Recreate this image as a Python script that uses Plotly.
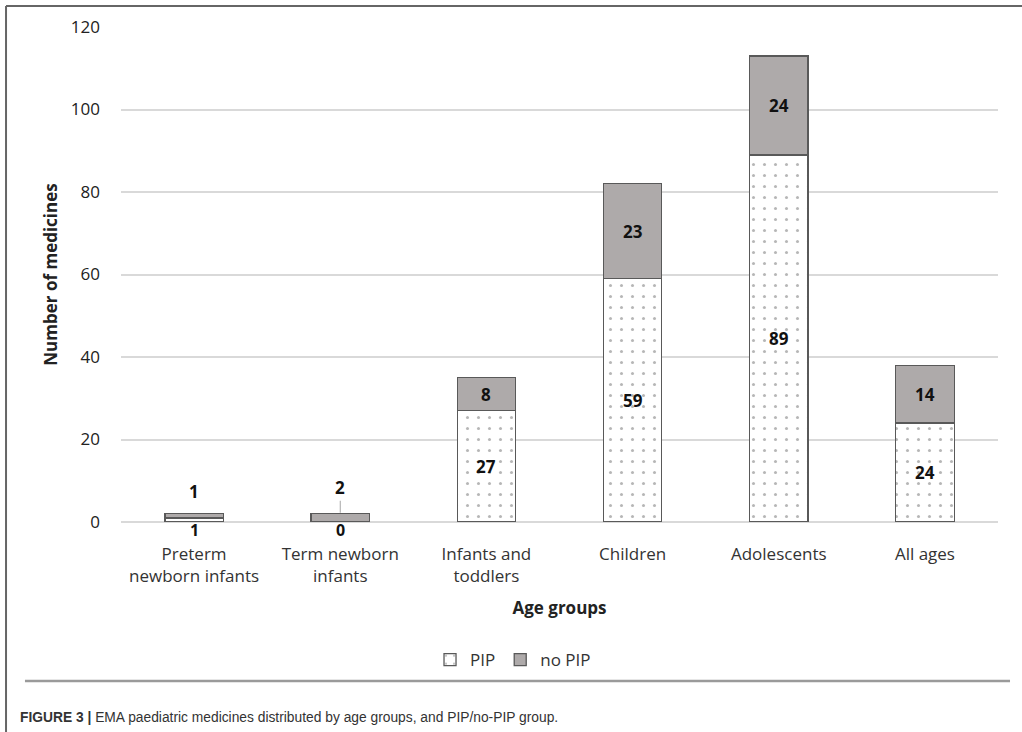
import plotly.graph_objects as go

# Age groups on the x axis (line breaks as they appear under the bars)
categories = ["Preterm<br>newborn infants", "Term newborn<br>infants", "Infants and<br>toddlers",
              "Children", "Adolescents", "All ages"]
pip_counts = [1, 0, 27, 59, 89, 24]
no_pip_counts = [1, 2, 8, 23, 24, 14]
y_ticks = [0, 20, 40, 60, 80, 100, 120]

FONT = "Open Sans"
EDGE = "#595959"
GRAY_FILL = "#AEAAAA"
GRID = "#D9D9D9"

fig = go.Figure()
fig.add_trace(go.Bar(
    x=categories, y=pip_counts, name="PIP", width=0.4,
    marker=dict(color="white", line=dict(color=EDGE, width=1.3),
                pattern=dict(shape=".", fgcolor="#6e6e6e", bgcolor="white",
                             size=11, solidity=0.06)),
))
fig.add_trace(go.Bar(
    x=categories, y=no_pip_counts, name="no PIP", width=0.4,
    marker=dict(color=GRAY_FILL, line=dict(color=EDGE, width=1.3)),
))

# Value labels: centred in each segment, moved outside when the bar is too short
label_font = dict(family=FONT, size=17, color="#111111")
small_font = dict(family=FONT, size=16, color="#111111")
for cat, p, n in zip(categories, pip_counts, no_pip_counts):
    total = p + n
    if total < 5:
        fig.add_annotation(x=cat, y=0, text=f"<b>{p}</b>", showarrow=False,
                           yanchor="middle", yshift=-8, borderpad=0, font=small_font)
        if p == 0:
            fig.add_annotation(x=cat, y=total, text=f"<b>{n}</b>", showarrow=True,
                               arrowhead=0, arrowwidth=1, arrowcolor="#A6A6A6",
                               ax=0, ay=-26, standoff=1, font=label_font)
        else:
            fig.add_annotation(x=cat, y=total, text=f"<b>{n}</b>", showarrow=False,
                               yanchor="middle", yshift=22, font=label_font)
    else:
        fig.add_annotation(x=cat, y=p / 2, text=f"<b>{p}</b>", showarrow=False,
                           font=label_font)
        fig.add_annotation(x=cat, y=p + n / 2, text=f"<b>{n}</b>", showarrow=False,
                           font=label_font)

# Panel frame (left and top edges) and the rule above the caption
fig.update_layout(shapes=[
    dict(type="line", xref="paper", yref="paper", x0=-0.1311, x1=1.04, y0=1.0424, y1=1.0424,
         line=dict(color="#666666", width=2)),
    dict(type="line", xref="paper", yref="paper", x0=-0.1311, x1=-0.1311, y0=1.0424, y1=-0.43,
         line=dict(color="#666666", width=2)),
    dict(type="line", xref="paper", yref="paper", x0=-0.1095, x1=1.0137, y0=-0.321, y1=-0.321,
         line=dict(color="#9a9a9a", width=2.5)),
])

fig.add_annotation(
    xref="paper", yref="paper", x=-0.1175, y=-0.394, xanchor="left", yanchor="middle",
    text="<b>FIGURE 3 |</b> EMA paediatric medicines distributed by age groups, and PIP/no-PIP group.",
    showarrow=False, font=dict(family="Liberation Sans Narrow, Liberation Sans", size=13.8, color="#333333"),
)

fig.update_layout(
    width=1022, height=732,
    margin=dict(l=121, r=24, t=27, b=210),
    paper_bgcolor="white", plot_bgcolor="white",
    barmode="stack", bargap=0.6,
    font=dict(family=FONT, size=16, color="#222222"),
    showlegend=True,
    legend=dict(orientation="h", x=0.447, y=-0.279, xanchor="center", yanchor="middle",
                font=dict(family=FONT, size=17, color="#333333"),
                itemwidth=30, traceorder="normal"),
    xaxis=dict(
        title=dict(text="<b>Age groups</b>", font=dict(family=FONT, size=17, color="#222222"),
                   standoff=16),
        showline=False, showgrid=False, ticks="", ticklabelstandoff=20,
        tickfont=dict(family=FONT, size=17, color="#333333"),
    ),
    yaxis=dict(
        range=[0, 120], tickvals=y_ticks, ticktext=[str(v) for v in y_ticks],
        showgrid=True, gridcolor=GRID, gridwidth=1.5, zeroline=True, zerolinecolor=GRID,
        zerolinewidth=1.5, showline=False, ticks="", ticklabelstandoff=20,
        tickfont=dict(family=FONT, size=17, color="#222222"),
        title=dict(text="<b>Number of medicines</b>", font=dict(family=FONT, size=17, color="#222222"),
                   standoff=8),
    ),
)

fig.write_html("out.html")
